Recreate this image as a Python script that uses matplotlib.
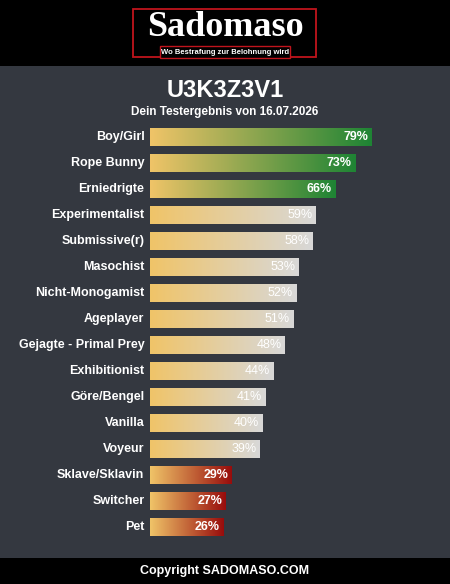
import numpy as np
import matplotlib.pyplot as plt
from matplotlib.colors import LinearSegmentedColormap
from matplotlib.patches import Rectangle

plt.rcParams['font.family'] = ['Liberation Sans', 'DejaVu Sans']

# data
labels = ['Boy/Girl', 'Rope Bunny', 'Erniedrigte', 'Experimentalist', 'Submissive(r)',
          'Masochist', 'Nicht-Monogamist', 'Ageplayer', 'Gejagte - Primal Prey',
          'Exhibitionist', 'Göre/Bengel', 'Vanilla', 'Voyeur', 'Sklave/Sklavin',
          'Switcher', 'Pet']
values = [79, 73, 66, 59, 58, 53, 52, 51, 48, 44, 41, 40, 39, 29, 27, 26]
groups = ['top'] * 3 + ['mid'] * 10 + ['low'] * 3

title = 'U3K3Z3V1'
subtitle = 'Dein Testergebnis von 16.07.2026'
footer = 'Copyright SADOMASO.COM'

bg = '#343840'
start_col = '#F0C468'
end_cols = {'top': '#1E8434', 'mid': '#D8D8D8', 'low': '#980C0C'}

W, H = 450, 584
fig = plt.figure(figsize=(W / 100, H / 100), dpi=100)
fig.patch.set_facecolor(bg)

# header / footer black bands
fig.add_artist(Rectangle((0, 1 - 66 / H), 1, 66 / H, transform=fig.transFigure,
                         facecolor='black', edgecolor='none'))
fig.add_artist(Rectangle((0, 0), 1, 26 / H, transform=fig.transFigure,
                         facecolor='black', edgecolor='none'))

# logo
fig.add_artist(Rectangle((133 / W, 1 - 57 / H), 183 / W, 48 / H, transform=fig.transFigure,
                         facecolor='black', edgecolor='#C0141C', linewidth=1.3))
fig.add_artist(Rectangle((160 / W, 1 - 58 / H), 130 / W, 12 / H, transform=fig.transFigure,
                         facecolor='black', edgecolor='#C0141C', linewidth=1.0))
fig.text(225 / W, 1 - 27 / H, 'Sadomaso', ha='center', va='center', color='white',
         fontsize=26, fontweight='bold', family=['Liberation Serif', 'DejaVu Serif'])
fig.text(225 / W, 1 - 52 / H, 'Wo Bestrafung zur Belohnung wird', ha='center', va='center',
         color='white', fontsize=5.5, fontweight='bold')

fig.text(225 / W, 1 - 90 / H, title, ha='center', va='center', color='white',
         fontsize=17, fontweight='bold')
fig.text(225 / W, 1 - 112 / H, subtitle, ha='center', va='center', color='white',
         fontsize=8.5, fontweight='bold')
fig.text(225 / W, 13 / H, footer, ha='center', va='center', color='white',
         fontsize=9, fontweight='bold')

# bars
ax = fig.add_axes([150 / W, 44 / H, 281 / W, 416 / H])
ax.set_facecolor(bg)
ax.axis('off')

grad = np.linspace(0, 1, 256).reshape(1, -1)
hh = 0.33
for i, (lab, v, g) in enumerate(zip(labels, values, groups)):
    cmap = LinearSegmentedColormap.from_list(g, [start_col, end_cols[g]])
    ax.imshow(grad, cmap=cmap, extent=(0, v, i + hh, i - hh), aspect='auto',
              interpolation='bilinear')
    ax.text(-2.0, i, lab, ha='right', va='center', color='white', fontsize=9,
            fontweight='bold', clip_on=False)
    ax.text(v - 1.2, i, f'{v}%', ha='right', va='center', color='white', fontsize=9,
            fontweight='bold' if g != 'mid' else 'normal')

ax.set_xlim(0, 100)
ax.set_ylim(len(labels) - 0.5, -0.5)

fig.savefig('out.png', dpi=100, facecolor=fig.get_facecolor())
